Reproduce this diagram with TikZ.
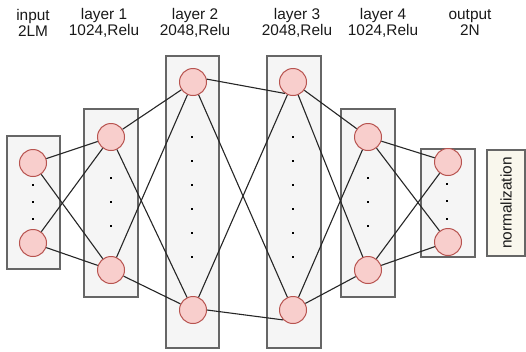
\documentclass[tikz,border=0pt]{standalone}
\usepackage{fontspec}
\setmainfont{Liberation Sans}
\definecolor{nfill}{HTML}{F8CECC}
\definecolor{nline}{HTML}{B85450}
\definecolor{bfill}{HTML}{F5F5F5}
\definecolor{bline}{HTML}{666666}
\definecolor{normfill}{HTML}{F9F7ED}
\begin{document}
\begin{tikzpicture}[x=1pt,y=-1pt,
  layerbox/.style={draw=bline,fill=bfill,line width=1.2pt},
  neuron/.style={circle,draw=nline,fill=nfill,line width=1pt,minimum size=27pt,inner sep=0pt},
  conn/.style={draw=black!85,line width=1.1pt},
  dotmark/.style={fill=black,minimum size=2.2pt,inner sep=0pt,rectangle},
  head/.style={font=\fontsize{15.4}{16}\selectfont,align=center,text=black!90}]
\useasboundingbox (0,0) rectangle (526,351);
% boxes
\node[layerbox,minimum width=53pt,minimum height=133pt,inner sep=0pt] (b0) at (33.5,202.5) {};
\node[layerbox,minimum width=54pt,minimum height=188pt,inner sep=0pt] (b1) at (111,203) {};
\node[layerbox,minimum width=53pt,minimum height=292pt,inner sep=0pt] (b2) at (192.5,202) {};
\node[layerbox,minimum width=54pt,minimum height=292pt,inner sep=0pt] (b3) at (294,202) {};
\node[layerbox,minimum width=54pt,minimum height=188pt,inner sep=0pt] (b4) at (368,203) {};
\node[layerbox,minimum width=54pt,minimum height=108pt,inner sep=0pt] (b5) at (448,203) {};
\node[draw=bline,fill=normfill,line width=1.2pt,minimum width=38pt,minimum height=106pt,inner sep=0pt] (norm) at (506,203) {};
\node[rotate=90,font=\fontsize{15.4}{18}\selectfont,text=black!90] (normtext) at (506,203) {normalization};
% neurons
\node[neuron] (i1) at (33,163) {};
\node[neuron] (i2) at (33,243) {};
\node[neuron] (a1) at (111,137) {};
\node[neuron] (a2) at (111,270) {};
\node[neuron] (c1) at (193,82) {};
\node[neuron] (c2) at (193,310) {};
\node[neuron] (d1) at (293,82) {};
\node[neuron] (d2) at (293,310) {};
\node[neuron] (e1) at (368,137) {};
\node[neuron] (e2) at (368,270) {};
\node[neuron] (o1) at (448,162) {};
\node[neuron] (o2) at (448,242) {};
% connections
\foreach \s in {i1,i2}{\foreach \t in {a1,a2}{\draw[conn] (\s) -- (\t);}}
\foreach \s in {a1,a2}{\foreach \t in {c1,c2}{\draw[conn] (\s) -- (\t);}}
\draw[conn] (c1.12) -- (d1.235);
\draw[conn] (c2.0) -- (d2.225);
\draw[conn] (c1) -- (d2);
\draw[conn] (c2) -- (d1);
\foreach \s in {d1,d2}{\foreach \t in {e1,e2}{\draw[conn] (\s) -- (\t);}}
\foreach \s in {e1,e2}{\foreach \t in {o1,o2}{\draw[conn] (\s) -- (\t);}}
% dots
\foreach \y [count=\k] in {185,202,219}{\node[dotmark] (p0\k) at (33,\y) {};}
\foreach \y [count=\k] in {178,202,226}{\node[dotmark] (p1\k) at (111,\y) {};}
\foreach \y [count=\k] in {137,161,185,209,233,257}{\node[dotmark] (p2\k) at (192,\y) {};}
\foreach \y [count=\k] in {137,161,185,209,233,257}{\node[dotmark] (p3\k) at (293,\y) {};}
\foreach \y [count=\k] in {178,202,226}{\node[dotmark] (p4\k) at (368,\y) {};}
\foreach \y [count=\k] in {184,201,219}{\node[dotmark] (p5\k) at (447,\y) {};}
% headers
\node[head] (h0) at (33,23) {input\\2LM};
\node[head] (h1) at (104,23) {layer 1\\1024,Relu};
\node[head] (h2) at (195,23) {layer 2\\2048,Relu};
\node[head] (h3) at (297,23) {layer 3\\2048,Relu};
\node[head] (h4) at (383,23) {layer 4\\1024,Relu};
\node[head] (h5) at (470,23) {output\\2N};
\end{tikzpicture}
\end{document}
